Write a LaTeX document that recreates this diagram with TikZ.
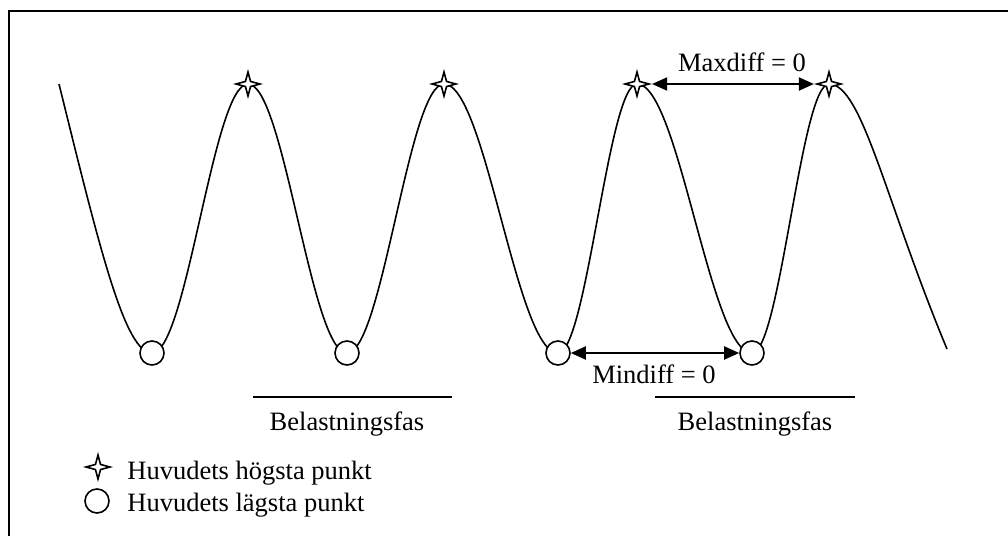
\documentclass[tikz,border=0pt]{standalone}
\usepackage{fontspec}
\setmainfont{Liberation Serif}
\usetikzlibrary{shapes.geometric,arrows.meta,calc}

\tikzset{
  maxmark/.style={draw, star, star points=4, star point ratio=0.3, shape border rotate=45, minimum size=3.6pt, inner sep=0pt, fill=white, line width=0.8pt},
  minmark/.style={draw, circle, minimum size=12pt, inner sep=0pt, fill=white, line width=0.8pt},
  lbl/.style={font=\fontsize{13.25}{15}\selectfont, inner sep=0pt, anchor=base},
  diff/.style={<->, >={Triangle[length=7.5pt,width=6.5pt]}, line width=1pt},
  wave/.style={line width=0.8pt},
  fasbar/.style={line width=1.2pt}
}

\begin{document}
\begin{tikzpicture}[x=0.5pt, y=-0.5pt]
    \useasboundingbox (0,0) rectangle (1008,536);
    \draw[line width=1pt] (9,536) |- (1008,11);

    % turning points of the head
    \coordinate (bot1) at (152,353);
    \coordinate (top1) at (248,84);
    \coordinate (bot2) at (347,353);
    \coordinate (top2) at (444,84);
    \coordinate (bot3) at (558,353);
    \coordinate (top3) at (637,84);
    \coordinate (bot4) at (752,353);
    \coordinate (top4) at (829,84);

    \draw[wave] (59,84) .. controls (100,250) and (125,353) .. (bot1)
      cos ($(bot1)!.5!(top1)$) sin (top1)
      cos ($(top1)!.5!(bot2)$) sin (bot2)
      cos ($(bot2)!.5!(top2)$) sin (top2)
      cos ($(top2)!.5!(bot3)$) sin (bot3)
      cos ($(bot3)!.5!(top3)$) sin (top3)
      cos ($(top3)!.5!(bot4)$) sin (bot4)
      cos ($(bot4)!.5!(top4)$) sin (top4)
      .. controls (862,84) and (885,200) .. (947,349);

    \node[minmark] (min1) at (bot1) {};
    \node[minmark] (min2) at (bot2) {};
    \node[minmark] (min3) at (bot3) {};
    \node[minmark] (min4) at (bot4) {};
    \node[maxmark] (max1) at (top1) {};
    \node[maxmark] (max2) at (top2) {};
    \node[maxmark] (max3) at (top3) {};
    \node[maxmark] (max4) at (top4) {};

    \draw[diff] (max3) -- (max4);
    \draw[diff] (min3) -- (min4);
    \node[lbl] (maxtxt) at (742,71) {Maxdiff = 0};
    \node[lbl] (mintxt) at (654,383) {Mindiff = 0};

    % loading phases
    \draw[fasbar] (253,397) -- (452,397);
    \draw[fasbar] (655,397) -- (855,397);
    \node[lbl] (fas1) at (347,430) {Belastningsfas};
    \node[lbl] (fas2) at (755,430) {Belastningsfas};

    % legend
    \node[maxmark] (keymax) at (98,467) {};
    \node[lbl, anchor=base west] (keymaxtxt) at (127,479) {Huvudets högsta punkt};
    \node[minmark] (keymin) at (97,501) {};
    \node[lbl, anchor=base west] (keymintxt) at (127,511) {Huvudets lägsta punkt};
\end{tikzpicture}
\end{document}
